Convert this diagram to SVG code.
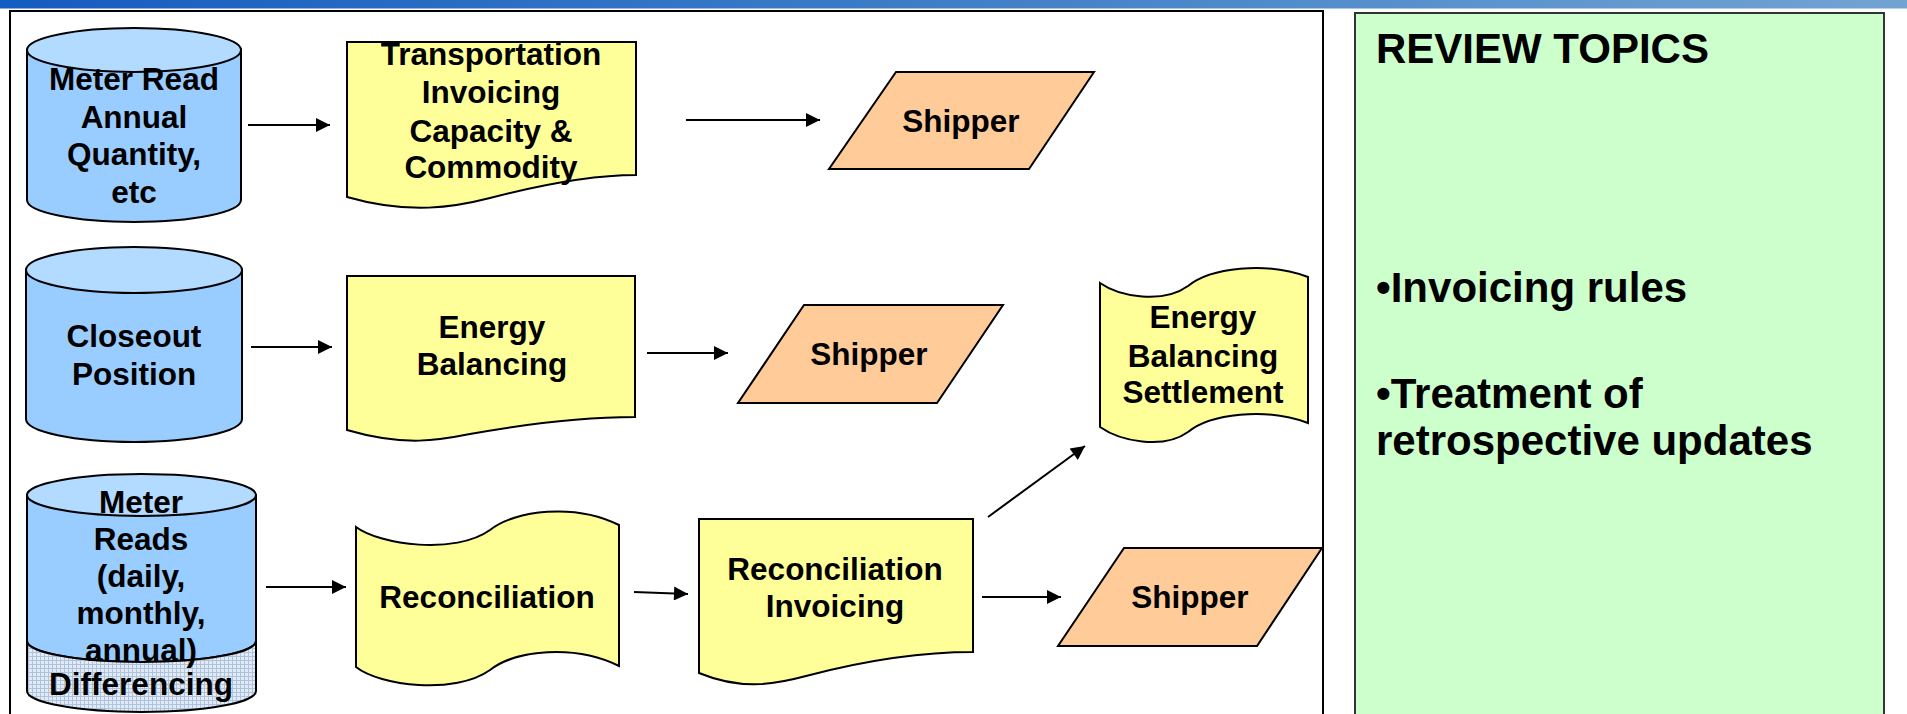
<svg xmlns="http://www.w3.org/2000/svg" width="1907" height="714" viewBox="0 0 1907 714">
<style>
.lbl{font-family:"Liberation Sans",Arial,sans-serif;font-weight:bold;font-size:31.5px;fill:#000;text-anchor:middle}
.rev{font-family:"Liberation Sans",Arial,sans-serif;font-weight:bold;font-size:42px;fill:#000}
.body{fill:#99ccff;stroke:#000;stroke-width:2}
.cap{fill:#b3daff;stroke:#000;stroke-width:2}
.doc{fill:#ffff99;stroke:#000;stroke-width:2}
.ship{fill:#ffcc99;stroke:#000;stroke-width:2}
.conn line{stroke:#000;stroke-width:2;marker-end:url(#ah)}
</style>
<defs>
<linearGradient id="bar" x1="0" y1="0" x2="1" y2="0">
<stop offset="0" stop-color="#155cc0"/>
<stop offset="0.5" stop-color="#3f7fc8"/>
<stop offset="1" stop-color="#72a4d2"/>
</linearGradient>
<pattern id="grid" width="4" height="4" patternUnits="userSpaceOnUse">
<rect width="4" height="4" fill="#e2ebf5"/>
<path d="M0,0.5H4M0.5,0V4" stroke="#aec4de" stroke-width="1"/>
</pattern>
<marker id="ah" viewBox="0 0 10 10" refX="10" refY="5" markerWidth="17" markerHeight="14" markerUnits="userSpaceOnUse" orient="auto">
<path d="M0,0L10,5L0,10Z" fill="#000"/>
</marker>
</defs>
<rect x="0" y="0" width="1907" height="714" fill="#fff"/>
<rect x="0" y="0" width="1907" height="8.5" fill="url(#bar)"/>
<g id="panel-left"><rect x="10" y="11" width="1313" height="720" fill="#fff" stroke="#000" stroke-width="2"/></g>
<g id="panel-review">
<rect x="1355" y="13" width="529" height="720" fill="#ccffcc" stroke="#333" stroke-width="2"/>
<text class="rev" x="1376" y="63">REVIEW TOPICS</text>
<text class="rev" x="1376" y="302">•Invoicing rules</text>
<text class="rev" x="1376" y="408">•Treatment of</text>
<text class="rev" x="1376" y="455">retrospective updates</text>
</g>
<g id="n-meter-read">
<path class="body" d="M27,50V200A107,22 0 0 0 241,200V50Z"/>
<ellipse class="cap" cx="134" cy="50" rx="107" ry="22"/>
<text class="lbl" x="134" y="90">Meter Read</text>
<text class="lbl" x="134" y="128">Annual</text>
<text class="lbl" x="134" y="165">Quantity,</text>
<text class="lbl" x="134" y="203">etc</text>
</g>
<g id="n-transport-invoicing">
<path class="doc" d="M347,42H636V175C595,175 540,185 490,198C455,207 410,215 347,197Z"/>
<text class="lbl" x="491" y="65">Transportation</text>
<text class="lbl" x="491" y="103">Invoicing</text>
<text class="lbl" x="491" y="142">Capacity &amp;</text>
<text class="lbl" x="491" y="178">Commodity</text>
</g>
<g id="n-shipper-1">
<path class="ship" d="M896,72H1094L1029,169H829Z"/>
<text class="lbl" x="961" y="132">Shipper</text>
</g>
<g id="n-closeout">
<path class="body" d="M26,270V419A108,23 0 0 0 242,419V270Z"/>
<ellipse class="cap" cx="134" cy="270" rx="108" ry="23"/>
<text class="lbl" x="134" y="347">Closeout</text>
<text class="lbl" x="134" y="385">Position</text>
</g>
<g id="n-energy-balancing">
<path class="doc" d="M347,276H635V417C580,417 520,425 470,434C440,440 405,447 347,430Z"/>
<text class="lbl" x="492" y="338">Energy</text>
<text class="lbl" x="492" y="375">Balancing</text>
</g>
<g id="n-shipper-2">
<path class="ship" d="M804,305H1003L937,403H738Z"/>
<text class="lbl" x="869" y="365">Shipper</text>
</g>
<g id="n-eb-settlement">
<path class="doc" d="M1100,283C1120,297 1163,304 1188,286C1210,268 1265,261 1308,277V423C1265,407 1210,414 1188,432C1163,450 1120,441 1100,427Z"/>
<text class="lbl" x="1203" y="328">Energy</text>
<text class="lbl" x="1203" y="367">Balancing</text>
<text class="lbl" x="1203" y="403">Settlement</text>
</g>
<g id="n-meter-reads">
<path class="body" d="M27,495V641A114.5,21 0 0 0 256,641V495Z"/>
<path d="M27,641A114.5,21 0 0 0 256,641V691A114.5,21 0 0 1 27,691Z" fill="url(#grid)" stroke="#000" stroke-width="2"/>
<ellipse class="cap" cx="141.5" cy="495" rx="114.5" ry="21"/>
<text class="lbl" x="141" y="513">Meter</text>
<text class="lbl" x="141" y="550">Reads</text>
<text class="lbl" x="141" y="587">(daily,</text>
<text class="lbl" x="141" y="624">monthly,</text>
<text class="lbl" x="141" y="661">annual)</text>
<text class="lbl" x="141" y="695">Differencing</text>
</g>
<g id="n-reconciliation">
<path class="doc" d="M356,527C380,545 455,555 490,530C515,510 575,503 619,525V666C575,644 515,650 490,670C455,695 380,686 356,667Z"/>
<text class="lbl" x="487" y="608">Reconciliation</text>
</g>
<g id="n-recon-invoicing">
<path class="doc" d="M699,519H973V652C920,652 860,662 810,675C780,683 745,692 699,673Z"/>
<text class="lbl" x="835" y="580">Reconciliation</text>
<text class="lbl" x="835" y="617">Invoicing</text>
</g>
<g id="n-shipper-3">
<path class="ship" d="M1124,548H1322L1257,646H1058Z"/>
<text class="lbl" x="1190" y="608">Shipper</text>
</g>
<g id="connectors" class="conn">
<line x1="248" y1="125" x2="330" y2="125"/>
<line x1="686" y1="120" x2="820" y2="120"/>
<line x1="251" y1="347" x2="332" y2="347"/>
<line x1="647" y1="353" x2="728" y2="353"/>
<line x1="266" y1="587" x2="346" y2="587"/>
<line x1="634" y1="592" x2="688" y2="594"/>
<line x1="982" y1="597" x2="1061" y2="597"/>
<line x1="988" y1="517" x2="1085" y2="446"/>
</g>
</svg>
